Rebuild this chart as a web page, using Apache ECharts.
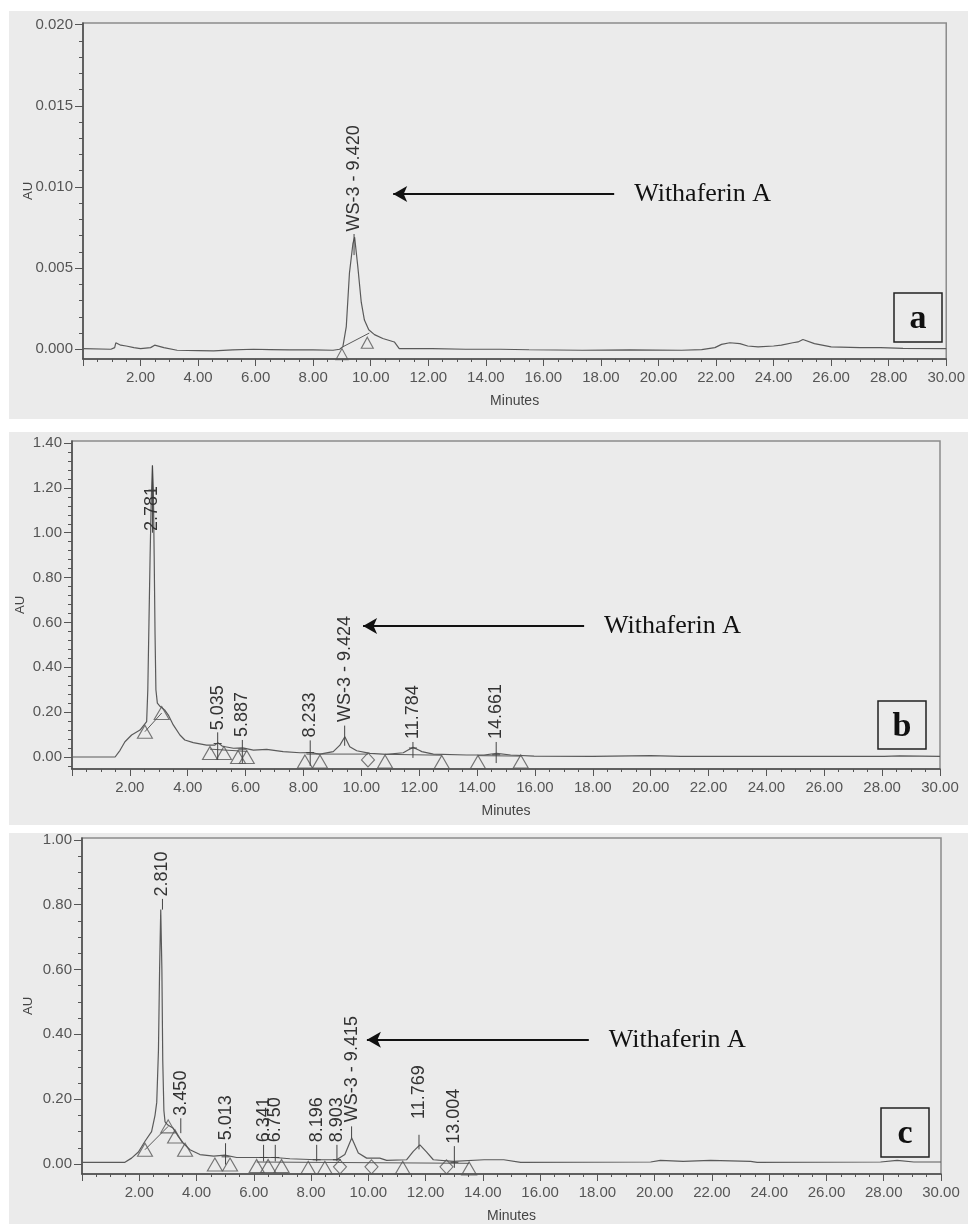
<!DOCTYPE html>
<html><head><meta charset="utf-8">
<script src="https://cdn.jsdelivr.net/npm/echarts@6/dist/echarts.min.js"></script>
<style>html,body{margin:0;padding:0;background:#fff}#c{width:968px;height:1224px}</style>
</head><body><div id="c"></div>
<script>
// ---------- DATA ----------
// Chromatogram traces: [minutes, AU]
const traceA = [[0.0,0.00004],[0.97,0.0],[1.1,0.0001],[1.14,0.0004],[1.31,0.00025],[1.5,0.0002],[1.77,0.0001],[2.0,0.00004],[2.35,0.0001],[2.49,0.00025],[2.81,0.0001],[3.27,-0.00006],[4.0,-0.00008],[4.54,-0.0001],[5.2,-0.00004],[5.92,0.0],[6.5,-0.00002],[7.19,-0.00004],[8.0,-0.00004],[8.69,-0.00006],[8.92,0.0],[9.03,0.00015],[9.15,0.0014],[9.26,0.0047],[9.38,0.0065],[9.44,0.0069],[9.55,0.0051],[9.67,0.0029],[9.78,0.0018],[9.93,0.0012],[10.13,0.0009],[10.42,0.00066],[10.82,0.00045],[10.99,0.00004],[12.14,0.00004],[13.3,0.0],[14.5,0.0],[15.5,-0.00003],[17.35,-0.00006],[19.0,-0.00004],[20.8,-0.00006],[21.5,-0.00002],[21.96,0.0001],[22.19,0.0003],[22.48,0.0004],[22.83,0.00035],[23.1,0.0002],[23.46,0.00015],[24.0,0.0002],[24.27,0.00025],[24.67,0.0004],[24.85,0.00045],[25.02,0.0006],[25.42,0.00035],[26.0,0.00015],[27.0,0.0001],[27.72,0.0001],[28.5,0.00006],[30.0,0.00004]];
const traceB = [[0,0.0],[1.49,0.0],[1.66,0.03],[1.83,0.068],[2.06,0.098],[2.35,0.12],[2.58,0.158],[2.62,0.3],[2.66,0.6],[2.70,0.9],[2.74,1.15],[2.78,1.30],[2.81,1.2],[2.84,0.9],[2.87,0.55],[2.9,0.3],[2.95,0.24],[3.05,0.225],[3.2,0.21],[3.33,0.187],[3.5,0.143],[3.73,0.098],[3.9,0.076],[4.19,0.064],[4.65,0.053],[4.94,0.053],[5.04,0.064],[5.2,0.048],[5.58,0.039],[5.9,0.041],[6.27,0.031],[6.73,0.034],[7.3,0.024],[7.88,0.019],[8.22,0.02],[8.57,0.013],[9.03,0.024],[9.26,0.053],[9.43,0.09],[9.6,0.046],[9.84,0.028],[10.3,0.016],[10.87,0.012],[11.45,0.019],[11.6,0.03],[11.79,0.043],[12.0,0.03],[12.09,0.024],[12.49,0.013],[13.64,0.009],[14.24,0.009],[14.68,0.016],[15.16,0.009],[15.97,0.004],[18.0,0.003],[20.0,0.006],[21.04,0.003],[24.0,0.003],[28.07,0.003],[28.6,0.005],[30.0,0.003]];
const traceC = [[0,0.005],[1.5,0.005],[1.73,0.018],[1.97,0.037],[2.2,0.07],[2.43,0.10],[2.55,0.15],[2.61,0.19],[2.67,0.35],[2.71,0.6],[2.75,0.785],[2.79,0.6],[2.82,0.32],[2.86,0.165],[2.9,0.13],[3.0,0.12],[3.19,0.11],[3.36,0.085],[3.54,0.064],[3.77,0.044],[4.12,0.029],[4.6,0.024],[4.99,0.027],[5.4,0.02],[6.27,0.02],[6.74,0.02],[7.26,0.016],[8.19,0.013],[8.89,0.013],[9.18,0.029],[9.42,0.08],[9.65,0.034],[9.94,0.018],[10.4,0.018],[10.64,0.011],[11.34,0.013],[11.57,0.039],[11.8,0.059],[12.03,0.037],[12.27,0.013],[12.97,0.008],[14.04,0.013],[14.73,0.013],[15.32,0.005],[19.86,0.006],[20.2,0.011],[21.0,0.008],[21.95,0.011],[23.35,0.008],[23.58,0.005],[27.89,0.006],[28.47,0.011],[29.05,0.006],[30.0,0.006]];

// Integration baselines: [t1, au1, t2, au2]
const baselinesA = [[9.03,0.00015,9.95,0.001]];
const baselinesB = [[2.52,0.113,3.1,0.196],[4.77,0.035,6.04,0.025],[8.1,0.013,10.23,0.013],[10.82,0.012,12.78,0.008],[14.03,0.006,15.51,0.004]];
const baselinesC = [[2.2,0.044,3.01,0.116],[6.1,0.006,13.52,0.002]];

// Peak markers: [t, au, symbol]
const markersA = [[9.0,-0.0003,'triangle'],[9.88,0.0004,'triangle']];
const markersB = [[2.52,0.113,'triangle'],[3.1,0.196,'triangle'],[4.77,0.018,'triangle'],[5.25,0.018,'triangle'],[5.74,0.0,'triangle'],[6.04,0.0,'triangle'],[8.05,-0.02,'triangle'],[8.57,-0.02,'triangle'],[10.23,-0.013,'diamond'],[10.82,-0.02,'triangle'],[12.78,-0.022,'triangle'],[14.03,-0.022,'triangle'],[15.51,-0.02,'triangle']];
const markersC = [[2.2,0.044,'triangle'],[3.01,0.116,'triangle'],[3.25,0.085,'triangle'],[3.6,0.044,'triangle'],[4.64,-0.002,'triangle'],[5.17,-0.002,'triangle'],[6.1,-0.006,'triangle'],[6.5,-0.006,'triangle'],[6.97,-0.006,'triangle'],[7.9,-0.012,'triangle'],[8.48,-0.012,'triangle'],[9.01,-0.009,'diamond'],[10.11,-0.009,'diamond'],[11.2,-0.012,'triangle'],[12.73,-0.009,'diamond'],[13.52,-0.014,'triangle']];

// Peak labels: [t, text, tickLow, tickHigh, textBase, crossbar]
const peaksA = [[9.42,'WS-3 - 9.420',0.0058,0.0071,0.0072,null]];
const peaksB = [[2.781,'2.781',1.0,1.30,1.003,1.19],[5.035,'5.035',-0.013,0.11,0.115,0.06],[5.887,'5.887',-0.027,0.076,0.085,0.035],[8.233,'8.233',-0.04,0.074,0.082,0.02],[9.424,'WS-3 - 9.424',0.05,0.14,0.152,null],[11.784,'11.784',-0.004,0.067,0.076,0.04],[14.661,'14.661',-0.027,0.067,0.076,0.01]];
const peaksC = [[2.81,'2.810',0.785,0.818,0.822,null],[3.45,'3.450',0.095,0.141,0.146,null],[5.013,'5.013',-0.002,0.064,0.07,0.022],[6.341,'6.341',0.008,0.059,0.064,0.02],[6.75,'6.750',0.008,0.059,0.064,0.02],[8.196,'8.196',0.008,0.059,0.064,0.013],[8.903,'8.903',0.008,0.059,0.064,0.013],[9.415,'WS-3 - 9.415',0.08,0.116,0.126,null],[11.769,'11.769',0.045,0.09,0.136,null],[13.004,'13.004',-0.012,0.055,0.059,0.005]];

// Axis ticks
const yTicksA = [0, 0.005, 0.010, 0.015, 0.020];
const yTicksB = [0, 0.2, 0.4, 0.6, 0.8, 1.0, 1.2, 1.4];
const yTicksC = [0, 0.2, 0.4, 0.6, 0.8, 1.0];
const yMinorStepA = 0.001, yMinorStepB = 0.04, yMinorStepC = 0.05;

// Arrows "Withaferin A": [tailT, tipT, au]
const arrowA = [18.46, 10.78, 0.00957];
const arrowB = [17.70, 10.06, 0.584];
const arrowC = [17.70, 9.95, 0.383];
const annotationText = 'Withaferin A';
const panelLetters = ['a','b','c'];

// ---------- LAYOUT ----------
const SANS = '"Liberation Sans", Arial, Helvetica, sans-serif';
const SERIF = '"Liberation Serif", "Times New Roman", serif';
const panels = [
  {grid:{left:83, top:23, width:867, height:336}, ymin:-0.0006, ymax:0.0201, ticks:yTicksA, step:yMinorStepA, digits:3, nameGap:48,
   trace:traceA, base:baselinesA, markers:markersA, peaks:peaksA, arrow:arrowA, msize:[12,11], bg:[9,11,959,408], box:[894,293,48,49]},
  {grid:{left:72, top:441, width:868, height:328}, ymin:-0.0535, ymax:1.409, ticks:yTicksB, step:yMinorStepB, digits:2, nameGap:45,
   trace:traceB, base:baselinesB, markers:markersB, peaks:peaksB, arrow:arrowB, msize:[15,13], bg:[9,432,959,393], box:[878,701,48,48]},
  {grid:{left:82, top:838, width:859, height:338}, ymin:-0.031, ymax:1.006, ticks:yTicksC, step:yMinorStepC, digits:2, nameGap:47,
   trace:traceC, base:baselinesC, markers:markersC, peaks:peaksC, arrow:arrowC, msize:[15,13], bg:[9,833,959,391], box:[881,1108,48,49]}
];

function minorValues(p){
  const out=[]; const n0=Math.ceil(p.ymin/p.step-1e-9), n1=Math.floor(p.ymax/p.step+1e-9);
  for(let k=n0;k<=n1;k++){ const v=+(k*p.step).toFixed(6); if(!p.ticks.some(t=>Math.abs(t-v)<1e-9)) out.push(v); }
  return out;
}

const grids=[], xAxes=[], yAxes=[], series=[], graphics=[];
panels.forEach((p,i)=>{
  grids.push(Object.assign({show:true, borderColor:'#8c8c8c', borderWidth:1.5, backgroundColor:'transparent'}, p.grid));
  xAxes.push({type:'value', gridIndex:i, min:0, max:30, interval:2,
    name:'Minutes', nameLocation:'middle', nameGap:35, nameMoveOverlap:false, nameTextStyle:{color:'#444', fontSize:14, fontFamily:SANS},
    axisLine:{onZero:false, lineStyle:{color:'#4a4a4a', width:1.5}},
    axisTick:{show:true, length:7, lineStyle:{color:'#555', width:1}},
    minorTick:{show:true, splitNumber:4, length:3, lineStyle:{color:'#555', width:1}},
    axisLabel:{margin:11, color:'#555', fontSize:15, fontFamily:SANS, formatter:v=> v===0?'':v.toFixed(2)},
    splitLine:{show:false}, minorSplitLine:{show:false}});
  yAxes.push({type:'value', gridIndex:i, position:'left', min:p.ymin, max:p.ymax,
    name:'AU', nameLocation:'middle', nameGap:p.nameGap, nameRotate:90, nameMoveOverlap:false, nameTextStyle:{color:'#444', fontSize:13, fontFamily:SANS},
    axisLine:{show:true, onZero:false, lineStyle:{color:'#4a4a4a', width:1.5}},
    axisTick:{show:true, length:8, customValues:p.ticks, lineStyle:{color:'#555', width:1}},
    axisLabel:{show:true, margin:10, color:'#555', fontSize:15, fontFamily:SANS, customValues:p.ticks, formatter:v=>v.toFixed(p.digits)},
    splitLine:{show:false}});
  yAxes.push({type:'value', gridIndex:i, position:'left', min:p.ymin, max:p.ymax,
    axisLine:{show:false}, axisLabel:{show:false}, splitLine:{show:false},
    axisTick:{show:true, length:4, customValues:minorValues(p), lineStyle:{color:'#555', width:1}}});
  const yi = i*2;
  series.push({type:'line', xAxisIndex:i, yAxisIndex:yi, data:p.trace, showSymbol:false, silent:true, animation:false,
    lineStyle:{color:'#5a5a5a', width:1.2}, z:3,
    markLine:{silent:true, animation:false, symbol:['none','arrow'], symbolSize:[12,14],
      lineStyle:{color:'#111', width:2, type:'solid'},
      label:{show:true, position:'start', distance:20, formatter:annotationText, color:'#111', fontSize:26, fontFamily:SERIF},
      data:[[{coord:[p.arrow[0], p.arrow[2]]},{coord:[p.arrow[1], p.arrow[2]]}]]}});
  series.push({type:'custom', xAxisIndex:i, yAxisIndex:yi, silent:true, animation:false, clip:false, z:3,
    data:p.base, encode:{x:[0,2], y:[1,3]},
    renderItem:(params, api)=>{
      const a=api.coord([api.value(0),api.value(1)]), b=api.coord([api.value(2),api.value(3)]);
      return {type:'line', shape:{x1:a[0],y1:a[1],x2:b[0],y2:b[1]}, style:{stroke:'#5a5a5a', lineWidth:1}};
    }});
  series.push({type:'scatter', xAxisIndex:i, yAxisIndex:yi, silent:true, animation:false, z:4,
    symbolSize:p.msize,
    itemStyle:{color:'rgba(0,0,0,0)', borderColor:'#555', borderWidth:1.1},
    data:p.markers.map(m=>({value:[m[0],m[1]], symbol:m[2], symbolSize: m[2]==='diamond'?[13,14]:p.msize}))});
  series.push({type:'custom', xAxisIndex:i, yAxisIndex:yi, silent:true, animation:false, clip:false, z:5,
    data:p.peaks.map(r=>[r[0], r[2], r[3], r[4], r[5]==null?NaN:r[5]]), encode:{x:0, y:[1,2,3]},
    renderItem:(params, api)=>{
      const row=p.peaks[params.dataIndex];
      const lo=api.coord([row[0],row[2]]), hi=api.coord([row[0],row[3]]), tb=api.coord([row[0],row[4]]);
      const children=[
        {type:'line', shape:{x1:lo[0],y1:lo[1],x2:hi[0],y2:hi[1]}, style:{stroke:'#444', lineWidth:1}},
        {type:'text', x:tb[0], y:tb[1]-1, rotation:Math.PI/2,
          style:{text:row[1], x:0, y:0, fill:'#333', font:'18px '+SANS, align:'left', verticalAlign:'middle'}}
      ];
      if(row[5]!=null){ const c=api.coord([row[0],row[5]]);
        children.push({type:'line', shape:{x1:c[0]-4,y1:c[1],x2:c[0]+4,y2:c[1]}, style:{stroke:'#444', lineWidth:1}}); }
      return {type:'group', children};
    }});
  graphics.push({type:'rect', z:-10, shape:{x:p.bg[0], y:p.bg[1], width:p.bg[2], height:p.bg[3]}, style:{fill:'#ebebeb'}});
  graphics.push({type:'rect', z:20, shape:{x:p.box[0], y:p.box[1], width:p.box[2], height:p.box[3]}, style:{fill:'rgba(0,0,0,0)', stroke:'#222', lineWidth:1.5}});
  graphics.push({type:'text', z:21, x:p.box[0]+p.box[2]/2, y:p.box[1]+p.box[3]/2+2,
    style:{text:panelLetters[i], fill:'#111', font:'bold 34px '+SERIF, align:'center', verticalAlign:'middle'}});
});

const chart = echarts.init(document.getElementById('c'), null, {renderer:'canvas', width:968, height:1224});
chart.setOption({animation:false, backgroundColor:'#ffffff', grid:grids, xAxis:xAxes, yAxis:yAxes, series, graphic:{elements:graphics}});
</script></body></html>
